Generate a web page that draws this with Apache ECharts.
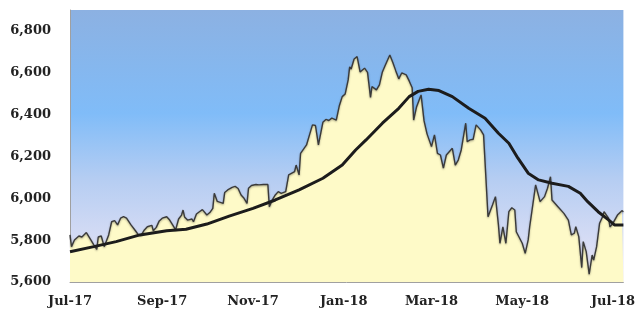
<!DOCTYPE html>
<html>
<head>
<meta charset="utf-8">
<script src="https://cdn.jsdelivr.net/npm/echarts@6/dist/echarts.min.js"></script>
<style>
  html, body { margin: 0; padding: 0; background: #fff; }
  #chart { width: 638px; height: 309px; }
</style>
</head>
<body>
<div id="chart"></div>
<script>
// price
var priceDates = [
  '2017-07-01','2017-07-02','2017-07-04','2017-07-07','2017-07-09','2017-07-12','2017-07-13','2017-07-15',
  '2017-07-17','2017-07-19','2017-07-20','2017-07-22','2017-07-24','2017-07-25','2017-07-27','2017-07-29',
  '2017-07-31','2017-08-02','2017-08-04','2017-08-06','2017-08-08','2017-08-11','2017-08-14','2017-08-16',
  '2017-08-18','2017-08-20','2017-08-22','2017-08-25','2017-08-26','2017-08-28','2017-08-30','2017-09-01',
  '2017-09-04','2017-09-06','2017-09-08','2017-09-10','2017-09-12','2017-09-14','2017-09-15','2017-09-16',
  '2017-09-18','2017-09-21','2017-09-22','2017-09-24','2017-09-26','2017-09-28','2017-10-01','2017-10-03',
  '2017-10-05','2017-10-06','2017-10-08','2017-10-09','2017-10-12','2017-10-13','2017-10-15','2017-10-18',
  '2017-10-20','2017-10-22','2017-10-24','2017-10-26','2017-10-28','2017-10-29','2017-10-31','2017-11-03',
  '2017-11-05','2017-11-08','2017-11-11','2017-11-12','2017-11-14','2017-11-16','2017-11-18','2017-11-20',
  '2017-11-23','2017-11-25','2017-11-29','2017-11-30','2017-12-02','2017-12-03','2017-12-07','2017-12-09',
  '2017-12-11','2017-12-13','2017-12-15','2017-12-18','2017-12-20','2017-12-22','2017-12-24','2017-12-27',
  '2017-12-29','2017-12-31','2018-01-02','2018-01-04','2018-01-05','2018-01-06','2018-01-08','2018-01-10',
  '2018-01-12','2018-01-15','2018-01-17','2018-01-19','2018-01-20','2018-01-23','2018-01-25','2018-01-27',
  '2018-01-29','2018-02-01','2018-02-03','2018-02-05','2018-02-07','2018-02-09','2018-02-12','2018-02-14',
  '2018-02-16','2018-02-17','2018-02-19','2018-02-22','2018-02-24','2018-02-26','2018-03-01','2018-03-03',
  '2018-03-05','2018-03-07','2018-03-09','2018-03-11','2018-03-15','2018-03-17','2018-03-19','2018-03-21',
  '2018-03-24','2018-03-25','2018-03-27','2018-03-29','2018-03-31','2018-04-03','2018-04-05','2018-04-08',
  '2018-04-11','2018-04-13','2018-04-15','2018-04-16','2018-04-18','2018-04-20','2018-04-22','2018-04-24',
  '2018-04-26','2018-04-27','2018-05-01','2018-05-03','2018-05-05','2018-05-06','2018-05-10','2018-05-13',
  '2018-05-16','2018-05-18','2018-05-20','2018-05-21','2018-05-25','2018-05-29','2018-06-01','2018-06-03',
  '2018-06-05','2018-06-06','2018-06-08','2018-06-10','2018-06-11','2018-06-13','2018-06-15','2018-06-17',
  '2018-06-18','2018-06-20','2018-06-22','2018-06-24','2018-06-25','2018-06-28','2018-06-29','2018-07-01',
  '2018-07-04','2018-07-07','2018-07-08'
]
var priceValues = [
  5825,5769,5801,5820,5815,5836,5834,5801,
  5777,5756,5815,5820,5769,5777,5825,5888,
  5893,5873,5905,5912,5905,5873,5845,5825,
  5825,5849,5864,5871,5845,5861,5892,5905,
  5912,5896,5873,5849,5901,5920,5944,5911,
  5896,5901,5888,5925,5936,5946,5920,5932,
  5952,6024,5985,5976,5976,6028,6040,6052,
  6057,6047,6016,6000,5976,6048,6061,6066,
  6064,6066,6066,5960,5992,6016,6032,6024,
  6032,6112,6128,6159,6112,6215,6255,6303,
  6351,6348,6255,6363,6377,6372,6383,6374,
  6441,6486,6499,6566,6628,6618,6666,6677,
  6604,6622,6602,6482,6534,6518,6542,6604,
  6637,6685,6649,6609,6571,6599,6590,6561,
  6528,6374,6438,6494,6370,6308,6247,6303,
  6215,6207,6144,6207,6239,6159,6183,6231,
  6359,6271,6279,6282,6351,6327,6303,5912,
  5968,6008,5873,5785,5864,5785,5936,5955,
  5944,5840,5785,5737,5801,5864,6064,5984,
  6008,6048,6103,5992,5960,5928,5896,5825,
  5833,5864,5817,5669,5793,5745,5638,5729,
  5705,5769,5881,5912,5936,5905,5864,5881,
  5920,5941,5936
]

// moving average
var maDates = [
  '2017-07-01','2017-07-17','2017-08-01','2017-08-17','2017-09-04','2017-09-17','2017-10-01','2017-10-16',
  '2017-11-01','2017-11-16','2017-12-02','2017-12-18','2017-12-31','2018-01-09','2018-01-16','2018-01-27',
  '2018-02-07','2018-02-14','2018-02-20','2018-02-27','2018-03-06','2018-03-15','2018-03-26','2018-04-06',
  '2018-04-15','2018-04-22','2018-04-28','2018-05-05','2018-05-12','2018-05-21','2018-06-01','2018-06-09',
  '2018-06-14','2018-06-21','2018-06-28','2018-07-02','2018-07-08'
]
var maValues = [
  5745,5769,5793,5825,5845,5852,5877,5915,
  5952,5992,6040,6096,6159,6231,6279,6359,
  6430,6486,6511,6521,6515,6486,6430,6383,
  6311,6263,6193,6120,6088,6072,6057,6024,
  5984,5936,5897,5873,5873
]

var monthNames = ['Jan','Feb','Mar','Apr','May','Jun','Jul','Aug','Sep','Oct','Nov','Dec']
var tickMonths = ['2017-07-01','2017-08-01','2017-09-01','2017-10-01','2017-11-01','2017-12-01','2018-01-01',
  '2018-02-01','2018-03-01','2018-04-01','2018-05-01','2018-06-01','2018-07-01']
var labelMonths = ['2017-07-01','2017-09-01','2017-11-01','2018-01-01','2018-03-01','2018-05-01','2018-07-01']

function ts(s) {
  var p = s.split('-')
  return Date.UTC(+p[0], +p[1] - 1, +p[2])
}

var dom = document.getElementById('chart')
var myChart = echarts.init(dom)

var option = {
  animation: false,
  grid: {
    left: 70,
    right: 12,
    top: 10,
    bottom: 27,
    show: true,
    borderWidth: 0,
    backgroundColor: new echarts.graphic.LinearGradient(0, 0, 0, 1, [
      { offset: 0, color: '#8cb1e2' },
      { offset: 0.38, color: '#80bcf8' },
      { offset: 0.62, color: '#b5cdf2' },
      { offset: 1, color: '#ece6f6' },
    ]),
  },
  xAxis: {
    type: 'value',
    min: ts('2017-07-01'),
    max: ts('2018-07-08'),
    axisLine: { show: true, lineStyle: { color: '#a0a0a0', width: 1 } },
    axisTick: {
      show: true,
      inside: true,
      length: 4,
      lineStyle: { color: '#a0a0a0' },
      customValues: tickMonths.map(ts),
    },
    axisLabel: {
      customValues: labelMonths.map(ts),
      margin: 13,
      color: '#222',
      fontFamily: 'DejaVu Serif',
      fontWeight: 'bold',
      fontSize: 13,
      formatter: function (v) {
        var d = new Date(v)
        return monthNames[d.getUTCMonth()] + '-' + String(d.getUTCFullYear()).slice(2)
      },
    },
    splitLine: { show: false },
  },
  yAxis: {
    type: 'value',
    min: 5600,
    max: 6900,
    interval: 200,
    axisLine: { show: true, lineStyle: { color: '#a0a0a0', width: 1 } },
    axisTick: { show: false },
    splitLine: { show: false },
    axisLabel: {
      margin: 19,
      color: '#222',
      fontFamily: 'DejaVu Serif',
      fontWeight: 'bold',
      fontSize: 13,
      formatter: function (v) {
        if (v % 200 !== 0) return ''
        return v.toLocaleString('en-US')
      },
    },
  },
  series: [
    {
      name: 'Price',
      type: 'line',
      showSymbol: false,
      data: priceDates.map(function (d, i) { return [ts(d), priceValues[i]] }),
      lineStyle: {
        color: '#3a3a3a',
        width: 1.4,
        shadowColor: 'rgba(0,0,0,0.35)',
        shadowBlur: 2,
        shadowOffsetY: 1,
      },
      areaStyle: { color: '#fefac8', opacity: 1 },
      z: 2,
    },
    {
      name: 'Average',
      type: 'line',
      showSymbol: false,
      data: maDates.map(function (d, i) { return [ts(d), maValues[i]] }),
      lineStyle: { color: '#1c1c1c', width: 3 },
      z: 3,
    },
  ],
}

if (option && typeof option === 'object') {
  myChart.setOption(option, true)
}
</script>
</body>
</html>
